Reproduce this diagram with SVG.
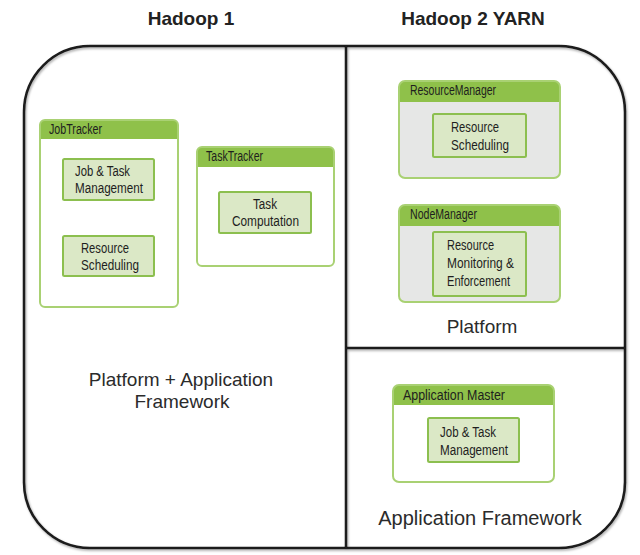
<svg xmlns="http://www.w3.org/2000/svg" width="640" height="555" viewBox="0 0 640 555">
<defs>
<filter id="sh" x="-5%" y="-5%" width="110%" height="110%"><feDropShadow dx="1" dy="1.5" stdDeviation="1.2" flood-color="#000" flood-opacity="0.35"/></filter>
</defs>
<style>
.title{font-family:"Liberation Sans",Arial,sans-serif;font-weight:bold;font-size:19px;fill:#222;text-anchor:middle}
.big{font-family:"Liberation Sans",Arial,sans-serif;font-size:19px;fill:#2b2b2b;text-anchor:middle}
.hdr{font-family:"Liberation Sans",Arial,sans-serif;font-size:14px;fill:#1e1e1e}
.in{font-family:"Liberation Sans",Arial,sans-serif;font-size:15.5px;fill:#1e1e1e}
.head{fill:#8fc14a}
.box{fill:none;stroke:#a9d173;stroke-width:2}
.wbody{fill:#fff}
.gbody{fill:#e6e7e6}
.inner{fill:#dbe8c6;stroke:#8cbf4f;stroke-width:2}
.frame{fill:none;stroke:#1a1a1a;stroke-width:2.5}
</style>
<rect width="640" height="555" fill="#fff"/>
<text class="title" x="191" y="25">Hadoop 1</text>
<text class="title" x="473" y="25">Hadoop 2 YARN</text>
<g id="frame" filter="url(#sh)">
<rect class="frame" x="24" y="46" width="601" height="502" rx="66" ry="66"/>
<line class="frame" x1="346" y1="46" x2="346" y2="548"/>
<line class="frame" x1="346" y1="348" x2="625" y2="348"/>
</g>
<g id="jobtracker">
<rect class="wbody" x="40" y="120" width="138" height="187" rx="5"/>
<path class="head" d="M40,139 V125 Q40,120 45,120 H173 Q178,120 178,125 V139 Z"/>
<rect class="box" x="40" y="120" width="138" height="187" rx="5"/>
<text class="hdr" x="49" y="134" textLength="53" lengthAdjust="spacingAndGlyphs">JobTracker</text>
<g id="jt-jobtask">
<rect class="inner" x="63" y="159" width="91" height="41" rx="1.5"/>
<text class="in" x="75" y="176" textLength="55" lengthAdjust="spacingAndGlyphs">Job &amp; Task</text>
<text class="in" x="75" y="193" textLength="68" lengthAdjust="spacingAndGlyphs">Management</text>
</g>
<g id="jt-resched">
<rect class="inner" x="63" y="236" width="91" height="40" rx="1.5"/>
<text class="in" x="81" y="253" textLength="48" lengthAdjust="spacingAndGlyphs">Resource</text>
<text class="in" x="81" y="270" textLength="58" lengthAdjust="spacingAndGlyphs">Scheduling</text>
</g>
</g>
<g id="tasktracker">
<rect class="wbody" x="197" y="147" width="137" height="119" rx="5"/>
<path class="head" d="M197,167 V152 Q197,147 202,147 H329 Q334,147 334,152 V167 Z"/>
<rect class="box" x="197" y="147" width="137" height="119" rx="5"/>
<text class="hdr" x="206" y="161" textLength="57" lengthAdjust="spacingAndGlyphs">TaskTracker</text>
<g id="tt-comp">
<rect class="inner" x="219" y="192" width="92" height="41" rx="1.5"/>
<text class="in" x="253" y="209" textLength="24" lengthAdjust="spacingAndGlyphs">Task</text>
<text class="in" x="232" y="226" textLength="67" lengthAdjust="spacingAndGlyphs">Computation</text>
</g>
</g>
<g id="resourcemanager">
<rect class="gbody" x="399" y="81" width="161" height="97" rx="6"/>
<path class="head" d="M399,102 V87 Q399,81 405,81 H554 Q560,81 560,87 V102 Z"/>
<rect class="box" x="399" y="81" width="161" height="97" rx="6"/>
<text class="hdr" x="410" y="95" textLength="86" lengthAdjust="spacingAndGlyphs">ResourceManager</text>
<g id="rm-sched">
<rect class="inner" x="433" y="114" width="93" height="43" rx="1.5"/>
<text class="in" x="451" y="132" textLength="48" lengthAdjust="spacingAndGlyphs">Resource</text>
<text class="in" x="451" y="150" textLength="58" lengthAdjust="spacingAndGlyphs">Scheduling</text>
</g>
</g>
<g id="nodemanager">
<rect class="gbody" x="399" y="205" width="161" height="97" rx="6"/>
<path class="head" d="M399,226 V211 Q399,205 405,205 H554 Q560,205 560,211 V226 Z"/>
<rect class="box" x="399" y="205" width="161" height="97" rx="6"/>
<text class="hdr" x="410" y="219" textLength="67" lengthAdjust="spacingAndGlyphs">NodeManager</text>
<g id="nm-monitor">
<rect class="inner" x="433" y="232" width="93" height="64" rx="1.5"/>
<text class="in" x="447" y="250" textLength="47" lengthAdjust="spacingAndGlyphs">Resource</text>
<text class="in" x="447" y="268" textLength="67" lengthAdjust="spacingAndGlyphs">Monitoring &amp;</text>
<text class="in" x="447" y="286" textLength="63" lengthAdjust="spacingAndGlyphs">Enforcement</text>
</g>
</g>
<g id="appmaster">
<rect class="wbody" x="393" y="385" width="161" height="97" rx="6"/>
<path class="head" d="M393,405 V391 Q393,385 399,385 H548 Q554,385 554,391 V405 Z"/>
<rect class="box" x="393" y="385" width="161" height="97" rx="6"/>
<text class="hdr" x="403" y="400" textLength="102" lengthAdjust="spacingAndGlyphs">Application Master</text>
<g id="am-jobtask">
<rect class="inner" x="428" y="418" width="91" height="44" rx="1.5"/>
<text class="in" x="440" y="437" textLength="56" lengthAdjust="spacingAndGlyphs">Job &amp; Task</text>
<text class="in" x="440" y="455" textLength="68" lengthAdjust="spacingAndGlyphs">Management</text>
</g>
</g>
<g id="connectors"></g>
<text class="big" x="181" y="386">Platform + Application</text>
<text class="big" x="182" y="408">Framework</text>
<text class="big" x="482" y="333">Platform</text>
<text class="big" x="480" y="525" style="font-size:20px">Application Framework</text>
</svg>
